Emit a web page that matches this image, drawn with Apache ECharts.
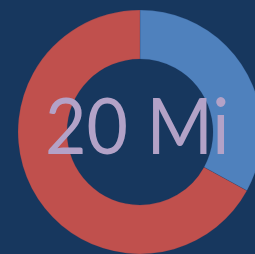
<!DOCTYPE html>
<html lang="en">
<head>
    <meta charset="UTF-8">
    <title>20 Mi</title>
    <style>
        html, body { margin: 0; padding: 0; background: #17375e; }
    </style>
</head>
<body>
    <div id="container" style="width: 255px;height: 254px;"></div>
<script src="https://cdn.jsdelivr.net/npm/echarts@6/dist/echarts.min.js"></script>
<script>
    // donut values (blue part first, clockwise from 12 o'clock)
    var names = ['Done', 'Left'];
    var values = [33, 67];
    var centerText = '20 Mi';

    var myChart = echarts.init(document.getElementById('container'));
    var pieData = [];
    for (var i = 0; i < names.length; i++) {
        pieData.push({ name: names[i], value: values[i] });
    }
    var option = {
        backgroundColor: '#17375e',
        color: ['#4f81bd', '#c0504d'],
        animation: false,
        series: [{
            type: 'pie',
            center: [140, 132],
            radius: [73, 122],
            startAngle: 90,
            clockwise: true,
            label: { show: false },
            labelLine: { show: false },
            itemStyle: {
                borderColor: 'rgba(23,55,94,0.35)',
                borderWidth: 0.5
            },
            data: pieData
        }],
        graphic: [{
            type: 'text',
            left: 45,
            top: 91,
            scaleX: 0.93,
            z: 100,
            style: {
                text: centerText,
                fill: '#b3a2c7',
                font: '77px Lato'
            }
        }]
    };
    myChart.setOption(option);
</script>
</body>
</html>
